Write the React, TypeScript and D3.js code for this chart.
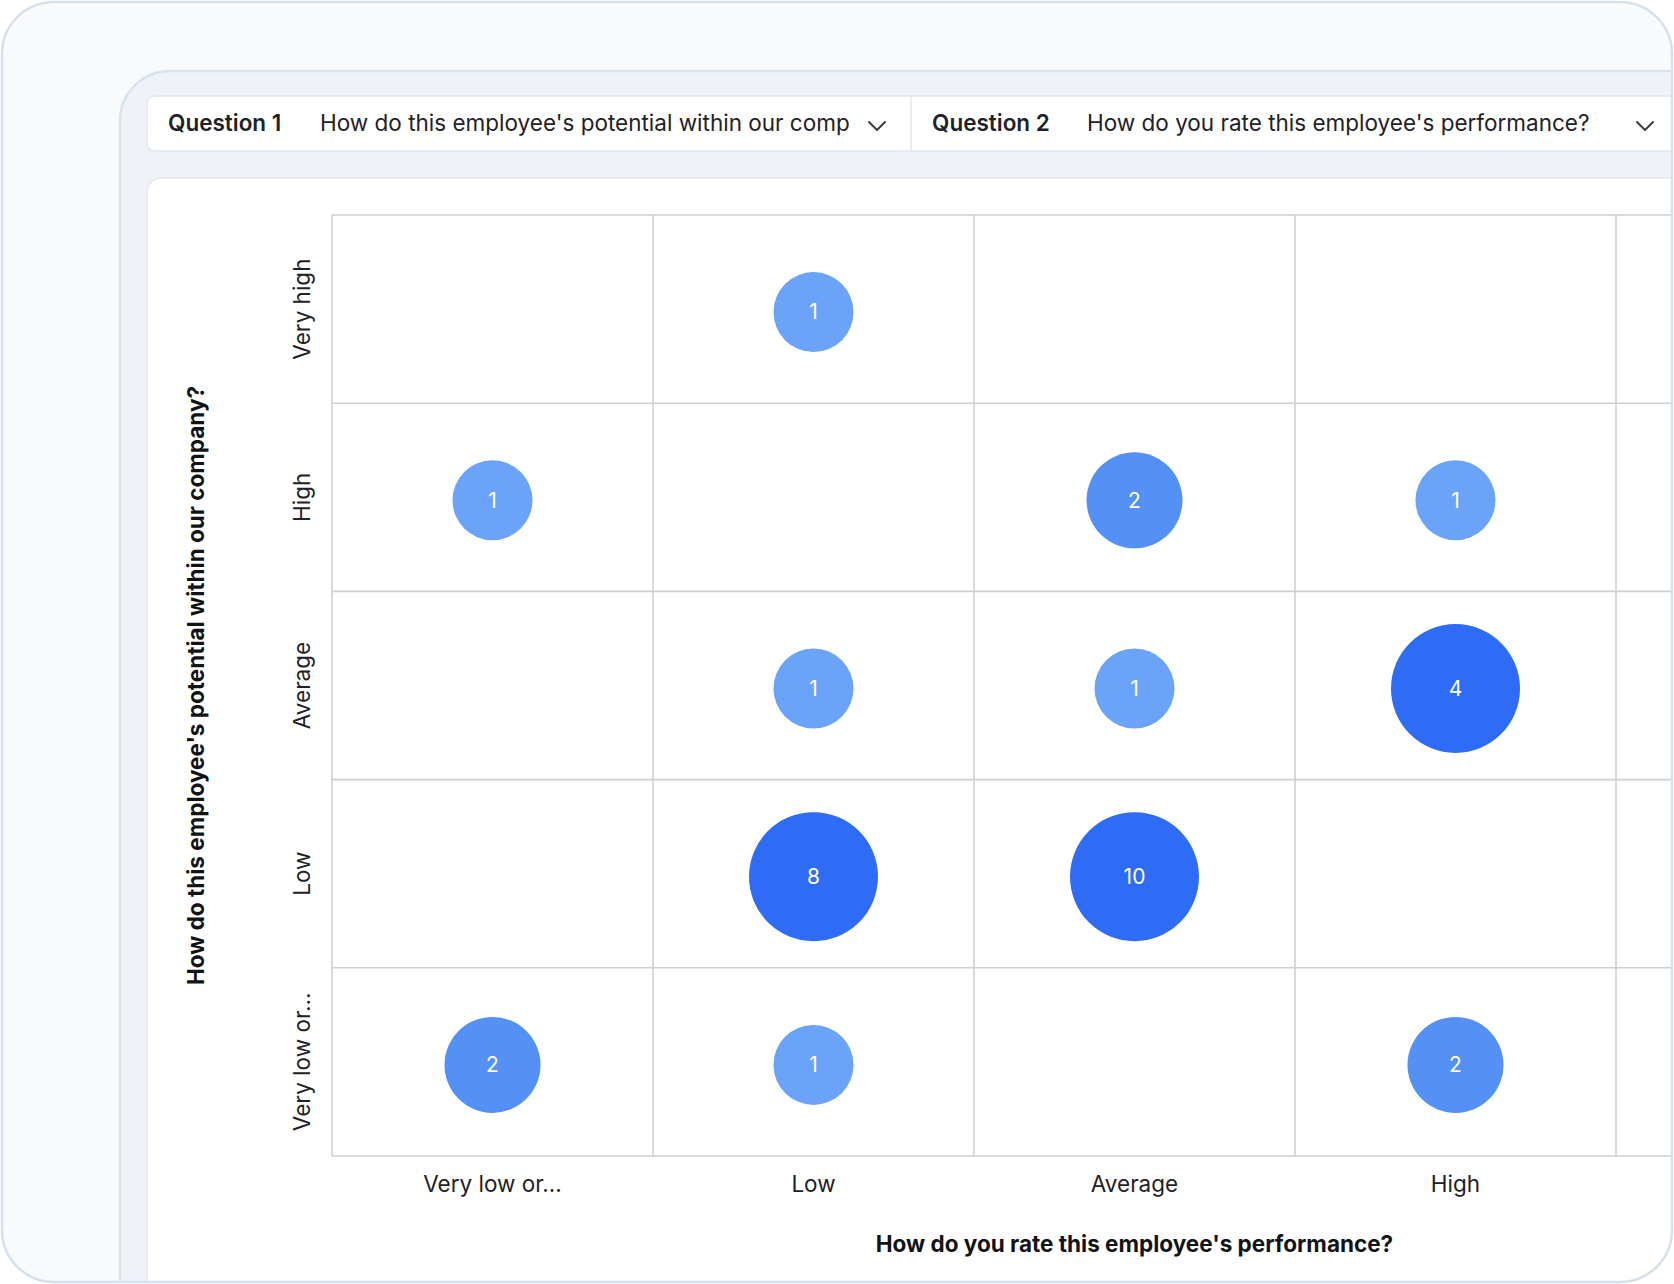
import React from "react";
import * as d3 from "d3";

const performanceLabels = ["Very low or...", "Low", "Average", "High", "Very high"];
const potentialLabels = ["Very high", "High", "Average", "Low", "Very low or..."];
// counts[row = potential][col = performance]
const counts = [
  [0, 1, 0, 0, 0],
  [1, 0, 2, 1, 0],
  [0, 1, 1, 4, 0],
  [0, 8, 10, 0, 0],
  [2, 1, 0, 2, 0],
];
const question1Label = "Question 1";
const question1Text = "How do this employee's potential within our company?";
const question2Label = "Question 2";
const question2Text = "How do you rate this employee's performance?";
const xTitle = "How do you rate this employee's performance?";
const yTitle = "How do this employee's potential within our company?";

const W = 1674;
const H = 1284;
const FONT = "Inter, 'Noto Sans', sans-serif";

export default function App() {
  const gx0 = 332;
  const colW = 321;
  const gy0 = 215;
  const gy1 = 1156;
  const x = d3.scaleBand<string>().domain(performanceLabels).range([gx0, gx0 + colW * performanceLabels.length]).padding(0);
  const y = d3.scaleBand<string>().domain(potentialLabels).range([gy0, gy1]).padding(0);
  const r = d3.scaleLinear().domain([1, 2, 4]).range([40, 48, 64.5]).clamp(true);
  const color = d3.scaleLinear<string>().domain([1, 2, 4]).range(["#6aa3f8", "#5590f5", "#2f6cf5"]).clamp(true);

  const points: { px: string; py: string; v: number }[] = [];
  counts.forEach((row, i) =>
    row.forEach((v, j) => {
      if (v > 0) points.push({ px: performanceLabels[j], py: potentialLabels[i], v });
    })
  );

  const gridRight = x.range()[1];
  const xMid = (x.range()[0] + gridRight) / 2;
  const yMid = (gy0 + gy1) / 2;
  const textColor = "#1f2226";
  const visibleX = performanceLabels.filter((c) => x(c)! + x.bandwidth() / 2 - 60 < W);

  return (
    <div style={{ position: "absolute", left: 0, top: 0, width: W, height: H }}>
      <svg width={W} height={H} style={{ display: "block", fontFamily: FONT }}>
        <defs>
          <clipPath id="frameClip">
            <rect x={2} y={2} width={W - 4} height={H - 4} rx={52} ry={52} />
          </clipPath>
          <clipPath id="q1Clip">
            <rect x={147} y={96} width={704} height={55} />
          </clipPath>
        </defs>
        <rect x={0} y={0} width={W} height={H} fill="#ffffff" />
        <g clipPath="url(#frameClip)">
          <rect x={2} y={2} width={W - 4} height={H - 4} fill="#f8fafc" />
          {/* inner panel */}
          <rect x={120} y={71} width={1700} height={1400} rx={50} ry={50} fill="#eff3f7" stroke="#d9e3ee" strokeWidth={2.5} />
          {/* dropdown bar */}
          <rect x={147} y={96} width={1600} height={55} rx={8} ry={8} fill="#ffffff" stroke="#e1e8f0" strokeWidth={1.5} />
          <line x1={911} x2={911} y1={96} y2={151} stroke="#e1e8f0" strokeWidth={1.5} />
          <g clipPath="url(#q1Clip)">
            <text x={168} y={131} fontSize={22.5} fontWeight={600} fill={textColor}>{question1Label}</text>
            <text x={320} y={131} fontSize={22.5} fill={textColor}>{question1Text}</text>
          </g>
          <rect x={856} y={100} width={50} height={48} fill="#ffffff" />
          <path d="M869,122 L877,130 L885,122" fill="none" stroke="#3a3f45" strokeWidth={2} strokeLinecap="round" strokeLinejoin="round" />
          <text x={932} y={131} fontSize={22.5} fontWeight={600} fill={textColor}>{question2Label}</text>
          <text x={1087} y={131} fontSize={22.5} fill={textColor}>{question2Text}</text>
          <path d="M1637,122 L1645,130 L1653,122" fill="none" stroke="#3a3f45" strokeWidth={2} strokeLinecap="round" strokeLinejoin="round" />
          {/* chart card */}
          <rect x={147} y={178} width={1600} height={1300} rx={14} ry={14} fill="#ffffff" stroke="#e3e9f0" strokeWidth={1.5} />
          {/* grid */}
          <g stroke="#cdd0d4" strokeWidth={1.6}>
            {performanceLabels.map((c) => (
              <line key={"v" + c} x1={x(c)!} x2={x(c)!} y1={gy0} y2={gy1} />
            ))}
            <line x1={gridRight} x2={gridRight} y1={gy0} y2={gy1} />
            {potentialLabels.map((c) => (
              <line key={"h" + c} x1={gx0} x2={gridRight} y1={y(c)!} y2={y(c)!} />
            ))}
            <line x1={gx0} x2={gridRight} y1={gy1} y2={gy1} />
          </g>
          {/* bubbles */}
          {points.map((p, i) => {
            const cx = x(p.px)! + x.bandwidth() / 2;
            const cy = y(p.py)! + y.bandwidth() / 2 + 3;
            return (
              <g key={i}>
                <circle cx={cx} cy={cy} r={r(p.v)} fill={color(p.v)} />
                <text x={cx} y={cy} dy="0.35em" textAnchor="middle" fontSize={21} fill="#ffffff">{p.v}</text>
              </g>
            );
          })}
          {/* x tick labels */}
          {visibleX.map((c) => (
            <text key={"xt" + c} x={x(c)! + x.bandwidth() / 2} y={1184} dy="0.35em" textAnchor="middle" fontSize={22.5} fill={textColor}>{c}</text>
          ))}
          {/* y tick labels */}
          {potentialLabels.map((c) => {
            const cy = y(c)! + y.bandwidth() / 2;
            return (
              <text key={"yt" + c} transform={`translate(302,${cy}) rotate(-90)`} dy="0.35em" textAnchor="middle" fontSize={22.5} fill={textColor}>{c}</text>
            );
          })}
          {/* axis titles */}
          <text x={xMid} y={1244} dy="0.35em" textAnchor="middle" fontSize={22.5} fontWeight={700} fill="#111315">{xTitle}</text>
          <text transform={`translate(196,${yMid}) rotate(-90)`} dy="0.35em" textAnchor="middle" fontSize={22.5} fontWeight={700} fill="#111315">{yTitle}</text>
        </g>
        <rect x={2} y={2} width={W - 4} height={H - 4} rx={52} ry={52} fill="none" stroke="#d6e1ec" strokeWidth={2.5} />
      </svg>
    </div>
  );
}
